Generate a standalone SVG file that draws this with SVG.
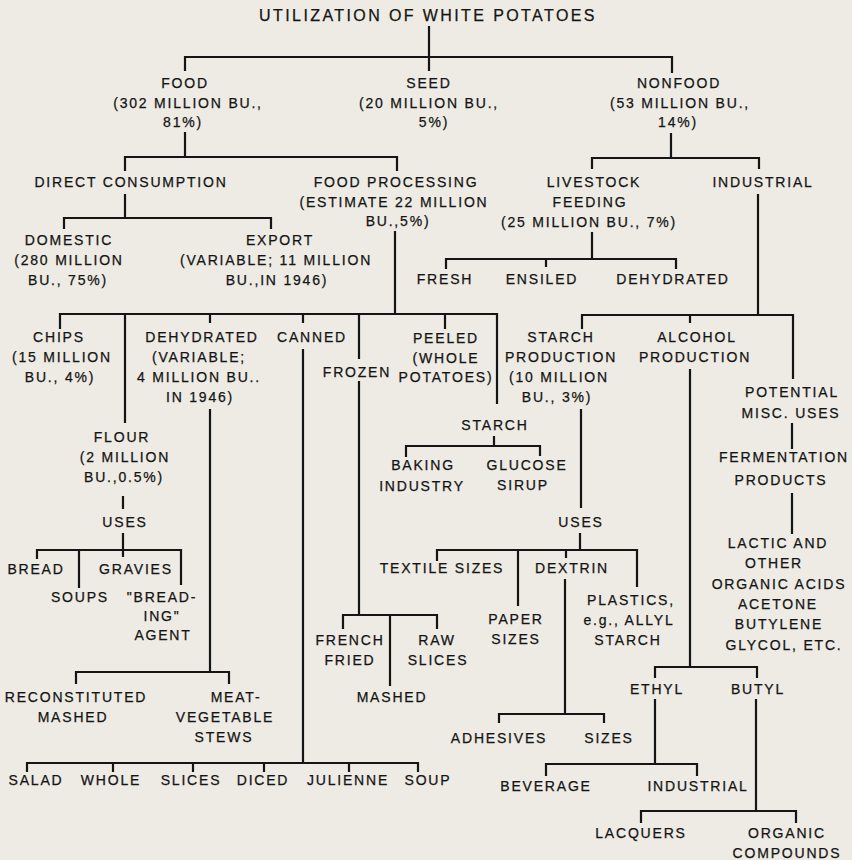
<svg xmlns="http://www.w3.org/2000/svg" width="852" height="860" viewBox="0 0 852 860">
<style>
.t{font-family:"Liberation Sans",Arial,sans-serif;font-size:14px;letter-spacing:1.8px;fill:#141414;stroke:#141414;stroke-width:0.25px;text-anchor:middle}
.h{font-size:16px;letter-spacing:2.4px}
.c{stroke:#151515;stroke-width:2.2;fill:none;stroke-linecap:square}
</style>
<rect width="852" height="860" fill="#edebe3"/>
<g id="connectors" class="c">
<path d="M429,27V70M185,70V57H672V72"/>
<path d="M185,133V157M125,170V157H397V170"/>
<path d="M671,134V158M592,168V158H759V168"/>
<path d="M125,195V218M64,228V218H271V228"/>
<path d="M395,232V314M60,328V314H497V403M125,314V422M210,314V322M303,314V322M359,314V358M445,314V328"/>
<path d="M592,233V259M446,268V259H676V268M546,259V266"/>
<path d="M758,195V315M582,328V315H793V378M690,315V322"/>
<path d="M494,437V446M406,456V446H540V455"/>
<path d="M210,410V672M76,683V672H229V683"/>
<path d="M303,350V763M27,771V763H418V771M113,763V771M193,763V771M264,763V771M349,763V771"/>
<path d="M359,382V615M343,628V615H437V628M390,615V685"/>
<path d="M123,497V508M123,534V550M37,558V550H181V584M79,550V587M123,550V556"/>
<path d="M581,410V507M580,534V550M437,560V550H637V586M518,550V605M566,550V557"/>
<path d="M565,580V714M499,722V714H604V722"/>
<path d="M690,370V667M655,677V667H757V677"/>
<path d="M655,700V764M546,775V764H697V775"/>
<path d="M756,700V811M641,822V811H796V822"/>
<path d="M792,424V448M792,494V533"/>
</g>
<g id="title"><text class="t h" x="428" y="21">UTILIZATION OF WHITE POTATOES</text></g>
<g id="food"><text class="t"><tspan x="185" y="88">FOOD</tspan><tspan x="188" y="108">(302 MILLION BU.,</tspan><tspan x="183" y="127">81%)</tspan></text></g>
<g id="seed"><text class="t"><tspan x="429" y="88">SEED</tspan><tspan x="429" y="108">(20 MILLION BU.,</tspan><tspan x="434" y="127">5%)</tspan></text></g>
<g id="nonfood"><text class="t"><tspan x="679" y="88">NONFOOD</tspan><tspan x="680" y="108">(53 MILLION BU.,</tspan><tspan x="678" y="127">14%)</tspan></text></g>
<g id="direct"><text class="t" x="131" y="187">DIRECT CONSUMPTION</text></g>
<g id="foodprocessing"><text class="t"><tspan x="396" y="187">FOOD PROCESSING</tspan><tspan x="394" y="207">(ESTIMATE 22 MILLION</tspan><tspan x="398" y="226">BU.,5%)</tspan></text></g>
<g id="livestock"><text class="t"><tspan x="594" y="187">LIVESTOCK</tspan><tspan x="590" y="207">FEEDING</tspan><tspan x="589" y="227">(25 MILLION BU., 7%)</tspan></text></g>
<g id="industrial"><text class="t" x="763" y="187">INDUSTRIAL</text></g>
<g id="domestic"><text class="t"><tspan x="69" y="245">DOMESTIC</tspan><tspan x="69" y="265">(280 MILLION</tspan><tspan x="68" y="285">BU., 75%)</tspan></text></g>
<g id="export"><text class="t"><tspan x="280" y="245">EXPORT</tspan><tspan x="276" y="265">(VARIABLE; 11 MILLION</tspan><tspan x="277" y="285">BU.,IN 1946)</tspan></text></g>
<g id="fresh"><text class="t" x="445" y="284">FRESH</text></g>
<g id="ensiled"><text class="t" x="542" y="284">ENSILED</text></g>
<g id="dehydrated-feed"><text class="t" x="673" y="284">DEHYDRATED</text></g>
<g id="chips"><text class="t"><tspan x="59" y="342">CHIPS</tspan><tspan x="62" y="362">(15 MILLION</tspan><tspan x="60" y="382">BU., 4%)</tspan></text></g>
<g id="dehydrated"><text class="t"><tspan x="202" y="342">DEHYDRATED</tspan><tspan x="199" y="362">(VARIABLE;</tspan><tspan x="199" y="382">4 MILLION BU..</tspan><tspan x="200" y="402">IN 1946)</tspan></text></g>
<g id="canned"><text class="t" x="312" y="342">CANNED</text></g>
<g id="frozen"><text class="t" x="357" y="377">FROZEN</text></g>
<g id="peeled"><text class="t"><tspan x="446" y="343">PEELED</tspan><tspan x="446" y="363">(WHOLE</tspan><tspan x="446" y="382">POTATOES)</tspan></text></g>
<g id="starchproduction"><text class="t"><tspan x="561" y="342">STARCH</tspan><tspan x="561" y="362">PRODUCTION</tspan><tspan x="559" y="382">(10 MILLION</tspan><tspan x="557" y="402">BU., 3%)</tspan></text></g>
<g id="alcohol"><text class="t"><tspan x="697" y="342">ALCOHOL</tspan><tspan x="695" y="362">PRODUCTION</tspan></text></g>
<g id="potential"><text class="t"><tspan x="792" y="397">POTENTIAL</tspan><tspan x="791" y="418">MISC. USES</tspan></text></g>
<g id="starch"><text class="t" x="495" y="430">STARCH</text></g>
<g id="baking"><text class="t"><tspan x="423" y="470">BAKING</tspan><tspan x="422" y="491">INDUSTRY</tspan></text></g>
<g id="glucose"><text class="t"><tspan x="527" y="470">GLUCOSE</tspan><tspan x="523" y="490">SIRUP</tspan></text></g>
<g id="fermentation"><text class="t"><tspan x="784" y="462">FERMENTATION</tspan><tspan x="781" y="485">PRODUCTS</tspan></text></g>
<g id="flour"><text class="t"><tspan x="122" y="442">FLOUR</tspan><tspan x="125" y="462">(2 MILLION</tspan><tspan x="124" y="482">BU.,0.5%)</tspan></text></g>
<g id="uses-flour"><text class="t" x="125" y="527">USES</text></g>
<g id="uses-starch"><text class="t" x="581" y="527">USES</text></g>
<g id="lactic"><text class="t"><tspan x="778" y="548">LACTIC AND</tspan><tspan x="774" y="568">OTHER</tspan><tspan x="779" y="589">ORGANIC ACIDS</tspan><tspan x="778" y="609">ACETONE</tspan><tspan x="779" y="629">BUTYLENE</tspan><tspan x="784" y="650">GLYCOL, ETC.</tspan></text></g>
<g id="bread"><text class="t" x="36" y="574">BREAD</text></g>
<g id="gravies"><text class="t" x="136" y="574">GRAVIES</text></g>
<g id="soups"><text class="t" x="80" y="602">SOUPS</text></g>
<g id="breading"><text class="t"><tspan x="162" y="602">"BREAD-</tspan><tspan x="162" y="621">ING"</tspan><tspan x="163" y="640">AGENT</tspan></text></g>
<g id="textile"><text class="t" x="442" y="573">TEXTILE SIZES</text></g>
<g id="dextrin"><text class="t" x="572" y="573">DEXTRIN</text></g>
<g id="paper"><text class="t"><tspan x="516" y="624">PAPER</tspan><tspan x="516" y="644">SIZES</tspan></text></g>
<g id="plastics"><text class="t"><tspan x="631" y="605">PLASTICS,</tspan><tspan x="629" y="625">e.g., ALLYL</tspan><tspan x="628" y="645">STARCH</tspan></text></g>
<g id="frenchfried"><text class="t"><tspan x="350" y="645">FRENCH</tspan><tspan x="350" y="665">FRIED</tspan></text></g>
<g id="rawslices"><text class="t"><tspan x="437" y="645">RAW</tspan><tspan x="438" y="665">SLICES</tspan></text></g>
<g id="reconstituted"><text class="t"><tspan x="76" y="702">RECONSTITUTED</tspan><tspan x="73" y="722">MASHED</tspan></text></g>
<g id="meat"><text class="t"><tspan x="236" y="702">MEAT-</tspan><tspan x="225" y="722">VEGETABLE</tspan><tspan x="224" y="742">STEWS</tspan></text></g>
<g id="mashed"><text class="t" x="392" y="702">MASHED</text></g>
<g id="ethyl"><text class="t" x="657" y="694">ETHYL</text></g>
<g id="butyl"><text class="t" x="758" y="694">BUTYL</text></g>
<g id="adhesives"><text class="t" x="499" y="743">ADHESIVES</text></g>
<g id="sizes"><text class="t" x="609" y="743">SIZES</text></g>
<g id="salad"><text class="t" x="36" y="785">SALAD</text></g>
<g id="whole"><text class="t" x="111" y="785">WHOLE</text></g>
<g id="slices"><text class="t" x="191" y="785">SLICES</text></g>
<g id="diced"><text class="t" x="263" y="785">DICED</text></g>
<g id="julienne"><text class="t" x="348" y="785">JULIENNE</text></g>
<g id="soup"><text class="t" x="428" y="785">SOUP</text></g>
<g id="beverage"><text class="t" x="546" y="791">BEVERAGE</text></g>
<g id="industrial2"><text class="t" x="698" y="791">INDUSTRIAL</text></g>
<g id="lacquers"><text class="t" x="641" y="838">LACQUERS</text></g>
<g id="organic"><text class="t"><tspan x="787" y="838">ORGANIC</tspan><tspan x="787" y="858">COMPOUNDS</tspan></text></g>
</svg>
